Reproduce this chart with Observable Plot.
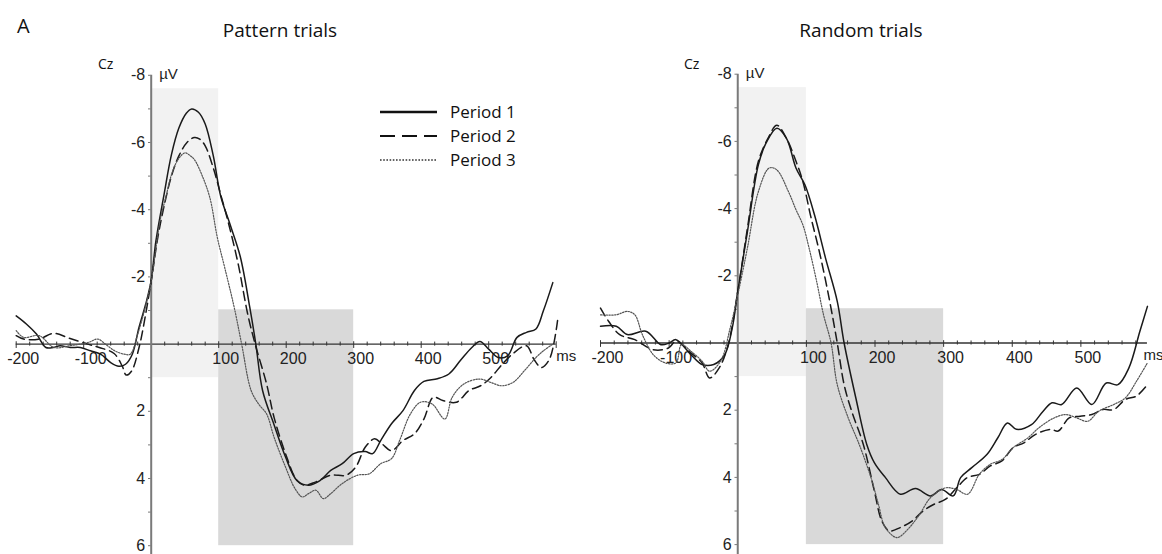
<!DOCTYPE html>
<html>
<head>
<meta charset="utf-8">
<script src="https://cdn.jsdelivr.net/npm/d3@7"></script>
<script src="https://cdn.jsdelivr.net/npm/@observablehq/plot@0.6"></script>
<style>
  body { margin: 0; background: #fff; }
  #fig { position: relative; width: 1162px; height: 554px; overflow: hidden; font-family: "Open Sans", sans-serif; color: #111; }
  .panel { position: absolute; top: 0; }
  .title { position: absolute; top: 18px; font-size: 19px; line-height: 24px; transform: translateX(-50%); white-space: nowrap; }
  .letter { position: absolute; left: 17px; top: 13px; font-size: 20px; line-height: 26px; }
  .chan { position: absolute; top: 54px; font-size: 14px; line-height: 20px; }
  .legend { position: absolute; left: 380px; top: 100px; }
  .legend .row { display: flex; align-items: center; height: 24px; }
  .legend svg { width: 57px; height: 10px; margin-right: 13px; }
  .legend span { font-size: 17px; line-height: 24px; }
</style>
</head>
<body>
<div id="fig">
  <div class="letter">A</div>
  <div class="title" id="t0"></div>
  <div class="title" id="t1"></div>
  <div class="chan" style="left:98px">Cz</div>
  <div class="chan" style="left:684px">Cz</div>
  <div class="panel" id="p0" style="left:0px"></div>
  <div class="panel" id="p1" style="left:580px"></div>
  <div class="legend" id="legend"></div>
</div>
<script>
// ---------- data (time in ms, amplitude in µV; negative plotted upward) ----------
const panelTitles = ["Pattern trials", "Random trials"];
const seriesNames = ["Period 1", "Period 2", "Period 3"];
const xTickValues = [-200, -100, 100, 200, 300, 400, 500];
const yTickValues = [-8, -6, -4, -2, 2, 4, 6];
const xUnit = "ms";
const yUnit = "µV";

// analysis windows [t start, t end, µV top, µV bottom]
const earlyWindow = [0, 100, -7.6, 1.0];
const lateWindow = [100, 300, -1.02, 6.0];

const patternPeriod1 = [[-200,-0.84],[-185,-0.6],[-170,-0.3],[-156,0.1],[-145,0.1],[-135,0.05],[-120,0.1],[-105,0.1],[-90,0.2],[-75,0.3],[-60,0.55],[-48,0.66],[-38,0.6],[-28,0.3],[-18,-0.5],[-8,-1.2],[0,-1.9],[7,-3.07],[19,-4.45],[30,-5.64],[41,-6.43],[52,-6.87],[60,-7.0],[70,-6.9],[80,-6.55],[92,-5.6],[103,-4.4],[117,-3.55],[132,-2.6],[146,-1.1],[155,0],[165,1.38],[182,2.4],[199,3.36],[216,4.06],[233,4.2],[250,4.06],[266,3.76],[283,3.56],[300,3.26],[317,3.2],[328,3.26],[340,2.87],[356,2.37],[373,1.98],[390,1.38],[404,1.11],[424,1.03],[441,0.89],[458,0.49],[475,0.1],[487,-0.08],[500,0.15],[514,0.4],[528,0.35],[542,-0.2],[556,-0.35],[570,-0.45],[581,-0.99],[595,-1.83]];
const patternPeriod2 = [[-200,-0.25],[-189,-0.15],[-166,-0.15],[-145,-0.32],[-122,-0.18],[-94,0],[-77,0.1],[-55,0.28],[-43,0.65],[-37,0.92],[-29,0.8],[-18,0.1],[-9,-0.8],[0,-1.88],[10,-3.2],[19,-4.1],[30,-5.0],[41,-5.6],[53,-6.0],[64,-6.15],[72,-6.1],[80,-5.9],[92,-5.24],[103,-4.45],[115,-3.56],[129,-2.37],[143,-0.89],[154,0],[171,1.19],[182,2.18],[199,3.26],[216,4.06],[227,4.2],[244,4.1],[266,3.9],[289,3.9],[303,3.66],[317,3.07],[331,2.82],[342,2.97],[356,3.17],[373,2.87],[390,2.67],[404,2.23],[418,1.58],[432,1.68],[452,1.73],[471,1.38],[488,1.24],[503,1.0],[520,0.6],[535,0.3],[556,0.05],[567,0.45],[578,0.7],[590,0.45],[602,-0.7]];
const patternPeriod3 = [[-200,-0.4],[-189,-0.2],[-166,-0.25],[-144,0.1],[-121,0.05],[-93,-0.05],[-79,-0.15],[-68,0],[-54,0.2],[-40,0.3],[-31,0.3],[-20,-0.3],[-10,-1.0],[0,-1.88],[13,-3.66],[22,-4.4],[30,-5.04],[40,-5.5],[50,-5.69],[57,-5.62],[64,-5.49],[75,-5.04],[87,-4.35],[98,-3.17],[109,-2.27],[123,-1.09],[134,0],[148,1.38],[159,1.78],[171,2.08],[182,2.77],[199,3.66],[213,4.3],[224,4.55],[233,4.45],[244,4.35],[255,4.6],[266,4.45],[283,4.15],[306,3.9],[323,3.86],[340,3.56],[356,3.41],[368,2.87],[384,2.08],[399,1.73],[416,1.78],[435,2.23],[446,1.58],[463,1.19],[486,1.04],[503,1.14],[519,1.24],[536,1.14],[553,0.79],[570,0.4],[581,0.2],[595,0]];

const randomPeriod1 = [[-200,-0.5],[-177,-0.5],[-161,-0.25],[-134,-0.35],[-112,0.05],[-100,0],[-90,-0.1],[-68,0.35],[-52,0.64],[-35,0.64],[-19,0.35],[-8,-0.45],[0,-1.53],[14,-3.3],[30,-5.3],[41,-5.94],[57,-6.39],[71,-6.09],[85,-5.2],[98,-4.7],[112,-3.8],[128,-2.52],[145,-1.24],[155,0],[172,1.63],[188,3.02],[199,3.56],[215,4.0],[237,4.5],[259,4.33],[281,4.55],[297,4.36],[314,4.55],[325,4.0],[341,3.71],[363,3.32],[379,2.82],[393,2.38],[406,2.57],[428,2.43],[445,2.03],[458,1.78],[472,1.83],[494,1.34],[516,1.83],[537,1.19],[554,1.24],[570,0.74],[586,-0.35],[597,-1.09]];
const randomPeriod2 = [[-200,-1.04],[-188,-0.64],[-172,-0.25],[-150,-0.1],[-123,0.2],[-101,0.15],[-90,-0.05],[-68,0.3],[-52,0.59],[-41,1.04],[-27,0.74],[-14,0.05],[0,-1.53],[14,-3.4],[30,-5.4],[44,-6.09],[57,-6.48],[71,-6.09],[85,-5.4],[95,-4.8],[106,-3.8],[120,-2.62],[134,-1.24],[145,0],[155,1.24],[166,2.03],[183,3.02],[199,4.4],[210,5.3],[221,5.59],[237,5.49],[254,5.3],[270,5.0],[286,4.8],[303,4.65],[319,4.31],[335,4.0],[352,3.91],[368,3.66],[385,3.51],[401,3.12],[417,2.97],[434,2.72],[456,2.57],[467,2.62],[483,2.23],[499,2.18],[516,2.13],[532,1.98],[548,1.98],[565,1.68],[581,1.58],[597,1.24]];
const randomPeriod3 = [[-200,-0.84],[-177,-0.84],[-161,-0.94],[-150,-0.84],[-139,-0.25],[-123,0.35],[-106,0.59],[-90,0.59],[-82,0.05],[-68,0.25],[-52,0.54],[-41,0.84],[-25,0.54],[-11,-0.45],[0,-1.43],[14,-2.82],[30,-4.5],[46,-5.21],[57,-5.15],[74,-4.5],[85,-3.96],[95,-3.51],[104,-2.82],[115,-1.83],[125,-0.84],[136,0],[145,1.24],[161,2.23],[177,3.02],[194,4.0],[205,4.8],[215,5.49],[232,5.79],[248,5.54],[265,5.1],[281,4.6],[303,4.31],[319,4.36],[335,4.5],[352,3.91],[368,3.61],[385,3.47],[401,3.12],[423,2.82],[439,2.52],[461,2.23],[478,2.13],[494,2.23],[510,2.33],[526,2.03],[548,1.83],[565,1.63],[581,1.14],[597,0.59]];

// ---------- styles ----------
const lineStyles = [
  {stroke: "#1a1a1a", strokeWidth: 1.5, strokeDasharray: null},
  {stroke: "#1a1a1a", strokeWidth: 1.5, strokeDasharray: "9,5"},
  {stroke: "#555", strokeWidth: 1.2, strokeDasharray: "1.4,1.4"}
];
const legendStyles = [
  {stroke: "#111", width: 2.6, dash: null},
  {stroke: "#111", width: 2.2, dash: "15,7"},
  {stroke: "#333", width: 1.6, dash: "1.6,1.6"}
];

const tickFont = "'Liberation Sans', Arial, sans-serif";

function panel(cfg) {
  const sets = cfg.series.map((s, i) => s.map(([t, v]) => ({t, v, k: i})));
  const windows = [
    {x1: earlyWindow[0], x2: earlyWindow[1], y1: earlyWindow[2], y2: earlyWindow[3], f: "#f2f2f2"},
    {x1: lateWindow[0], x2: lateWindow[1], y1: lateWindow[2], y2: lateWindow[3], f: "#d9d9d9"}
  ];
  const minor = d3.range(-200, cfg.axisEnd + 1, 20).filter(d => d !== 0 && d % 100 !== 0);
  const major = d3.range(-200, cfg.axisEnd + 1, 100).filter(d => d !== 0);
  const yMinor = d3.range(-8, 7, 1).filter(d => d !== 0);
  const fs = 16;
  return Plot.plot({
    width: cfg.width,
    height: 554,
    margin: 0,
    style: {fontFamily: tickFont, fontSize: "16px", color: "#333", background: "transparent", overflow: "visible"},
    x: {domain: [-200, 600], range: cfg.xRange, axis: null},
    y: {domain: [-8, 6], range: cfg.yRange, axis: null},
    marks: [
      Plot.rect(windows, {x1: "x1", x2: "x2", y1: "y1", y2: "y2", fill: "f"}),
      Plot.ruleY([0], {x1: -200, x2: cfg.axisEnd, stroke: "#333", strokeWidth: 1.4}),
      Plot.ruleX(minor, {x: d => d, y1: -0.06, y2: 0.06, stroke: "#333", strokeWidth: 1}),
      Plot.ruleX(major, {x: d => d, y1: -0.07, y2: 0.13, stroke: "#333", strokeWidth: 1}),
      Plot.ruleX([0], {y1: -8, y2: 6.4, stroke: "#7a7a7a", strokeWidth: 2}),
      Plot.ruleY(yMinor, {y: d => d, x1: -4, x2: 0, stroke: "#7a7a7a", strokeWidth: 1}),
      Plot.text(xTickValues, {x: d => d, y: () => 0, text: d => String(d), dx: 7, dy: 15, fontSize: fs, fill: "#222"}),
      Plot.text(yTickValues, {x: () => 0, y: d => d, text: d => String(d), dx: -6, textAnchor: "end", fontSize: fs, fill: "#222"}),
      Plot.text([xUnit], {x: () => cfg.axisEnd, y: () => 0, text: d => d, dx: cfg.unitDx, dy: 12, textAnchor: "start", fontSize: fs - 1, fill: "#222"}),
      Plot.text([yUnit], {x: () => 0, y: () => -8, text: d => d, dx: 8, dy: -1, textAnchor: "start", fontSize: fs - 1, fill: "#222"}),
      ...sets.map((d, i) => Plot.line(d, {
        x: "t", y: "v", curve: "catmull-rom",
        stroke: lineStyles[i].stroke,
        strokeWidth: lineStyles[i].strokeWidth,
        strokeDasharray: lineStyles[i].strokeDasharray
      }))
    ]
  });
}

document.getElementById("p0").appendChild(panel({
  width: 580, xRange: [15.7, 555.7], yRange: [74.8, 545.2], axisEnd: 600, unitDx: 0,
  series: [patternPeriod1, patternPeriod2, patternPeriod3]
}));
document.getElementById("p1").appendChild(panel({
  width: 582, xRange: [20, 569], yRange: [73.7, 544.1], axisEnd: 597, unitDx: -4,
  series: [randomPeriod1, randomPeriod2, randomPeriod3]
}));

document.getElementById("t0").textContent = panelTitles[0];
document.getElementById("t0").style.left = "280px";
document.getElementById("t1").textContent = panelTitles[1];
document.getElementById("t1").style.left = "861px";

const legend = document.getElementById("legend");
seriesNames.forEach((name, i) => {
  const row = document.createElement("div");
  row.className = "row";
  const st = legendStyles[i];
  row.innerHTML = `<svg viewBox="0 0 57 10"><line x1="0" y1="5" x2="57" y2="5" stroke="${st.stroke}" stroke-width="${st.width}" ${st.dash ? `stroke-dasharray="${st.dash}"` : ""}/></svg><span>${name}</span>`;
  legend.appendChild(row);
});
</script>
</body>
</html>
